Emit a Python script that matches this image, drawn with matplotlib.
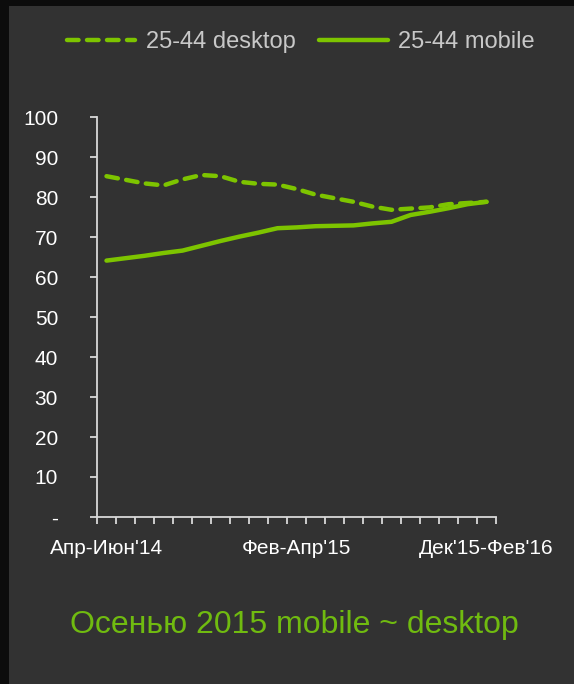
import matplotlib
matplotlib.use("Agg")
import matplotlib.pyplot as plt
from matplotlib.patches import Rectangle
import numpy as np

# данные: скользящие 3-месячные окна, Апр-Июн'14 ... Дек'15-Фев'16
periods = ["Апр-Июн'14", "Май-Июл'14", "Июн-Авг'14", "Июл-Сен'14", "Авг-Окт'14",
           "Сен-Ноя'14", "Окт-Дек'14", "Ноя'14-Янв'15", "Дек'14-Фев'15", "Янв-Мар'15",
           "Фев-Апр'15", "Мар-Май'15", "Апр-Июн'15", "Май-Июл'15", "Июн-Авг'15",
           "Июл-Сен'15", "Авг-Окт'15", "Сен-Ноя'15", "Окт-Дек'15", "Ноя'15-Янв'16",
           "Дек'15-Фев'16"]
desktop = [85.2, 84.3, 83.4, 82.9, 84.4, 85.5, 85.2, 83.8, 83.3, 83.1,
           82.0, 80.6, 79.7, 78.8, 77.6, 76.8, 77.1, 77.4, 78.2, 78.5, 78.8]
mobile = [64.1, 64.7, 65.3, 66.0, 66.6, 67.8, 69.0, 70.1, 71.1, 72.2,
          72.4, 72.7, 72.8, 72.9, 73.4, 73.8, 75.5, 76.3, 77.2, 78.2, 78.8]
label_every = 10
y_ticks = list(range(0, 101, 10))
y_labels = ["-"] + [str(v) for v in y_ticks[1:]]

GREEN = "#7dc400"
TITLE_GREEN = "#70bb10"
BG = "#323232"

plt.rcParams["font.family"] = ["Liberation Sans", "DejaVu Sans"]

fig = plt.figure(figsize=(5.74, 6.84), dpi=100)
fig.patch.set_facecolor("#0c0c0c")
# серая подложка слайда (чёрная полоса слева и сверху)
fig.patches.append(Rectangle((9 / 574, 0), 1, 1 - 6 / 684, transform=fig.transFigure,
                             facecolor=BG, edgecolor="none", zorder=-10))

ax = fig.add_axes([97 / 574, 1 - 517 / 684, 399 / 574, 400 / 684])
ax.set_facecolor("none")

x = np.arange(len(periods))
ax.plot(x, desktop, color=GREEN, lw=3.2, ls=(0, (2.6, 1.9)),
        dash_capstyle="round", solid_capstyle="round", label="25-44 desktop")
ax.plot(x, mobile, color=GREEN, lw=3.2, solid_capstyle="round", label="25-44 mobile")

ax.set_xlim(-0.5, len(periods) - 0.5)
ax.set_ylim(0, 100)

# оси
for s in ["top", "right"]:
    ax.spines[s].set_visible(False)
for s in ["left", "bottom"]:
    ax.spines[s].set_color("#d9d9d9")
    ax.spines[s].set_linewidth(1.3)

ax.set_yticks(y_ticks)
ax.set_yticklabels(y_labels)
ax.tick_params(axis="y", direction="out", length=5, width=1.3, color="#d9d9d9",
               labelcolor="white", labelsize=15, pad=23)

lab_idx = list(range(0, len(periods), label_every))
ax.set_xticks(lab_idx)
ax.set_xticklabels([periods[i] for i in lab_idx])
ax.set_xticks(np.arange(-0.5, len(periods)), minor=True)
ax.tick_params(axis="x", which="major", length=0, labelcolor="white",
               labelsize=15, pad=16)
ax.tick_params(axis="x", which="minor", direction="out", length=5, width=1.3,
               color="#d9d9d9")

leg = fig.legend(loc="center", bbox_to_anchor=(0.5 + 14 / 574, 1 - 42 / 684), ncol=2,
                 frameon=False, fontsize=17, handlelength=2.9, handletextpad=0.45,
                 columnspacing=1.0)
for t in leg.get_texts():
    t.set_color("#c8c8c8")

fig.text(294 / 574, 1 - 625 / 684, "Осенью 2015 mobile ~ desktop", color=TITLE_GREEN,
         fontsize=23, ha="center", va="center")

fig.savefig("out.png", dpi=100, facecolor=fig.get_facecolor())
